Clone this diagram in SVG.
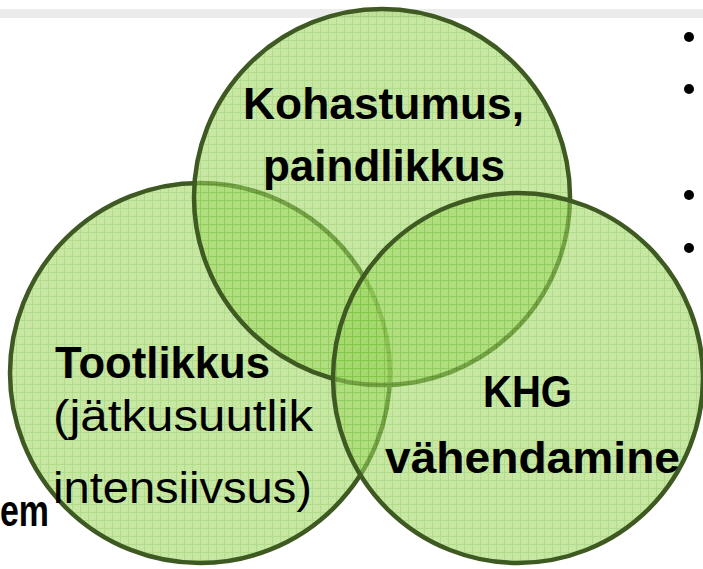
<svg xmlns="http://www.w3.org/2000/svg" width="703" height="569" viewBox="0 0 703 569">
<defs>
<pattern id="grid" width="8" height="8" patternUnits="userSpaceOnUse">
<rect width="8" height="8" fill="#9fd661"/>
<path d="M0 0.5H8M0.5 0V8" stroke="#79c23c" stroke-width="1"/>
</pattern>
<style>
.circ{fill:url(#grid);fill-opacity:0.58;stroke:#3e5a22;stroke-width:4.5}
.b{font-family:"Liberation Sans",Arial,sans-serif;font-weight:bold;font-size:44px;fill:#000}
.r{font-family:"Liberation Sans",Arial,sans-serif;font-weight:normal;font-size:44px;fill:#000}
.dot{fill:#000}
</style>
</defs>
<rect width="703" height="569" fill="#ffffff"/>
<rect x="0" y="9" width="703" height="9" fill="#ebebeb"/>
<g id="bullets">
<circle class="dot" cx="689" cy="37" r="5"/>
<circle class="dot" cx="689" cy="89" r="5"/>
<circle class="dot" cx="689" cy="195" r="5"/>
<circle class="dot" cx="689" cy="248" r="5"/>
</g>
<text class="b" x="0" y="526" textLength="49" lengthAdjust="spacingAndGlyphs" font-size="38">em</text>
<g id="tootlikkus">
<circle class="circ" cx="200" cy="373" r="190"/>
<text class="b" x="55" y="378" textLength="215" lengthAdjust="spacingAndGlyphs">Tootlikkus</text>
<text class="r" x="53" y="431" textLength="260" lengthAdjust="spacingAndGlyphs">(jätkusuutlik</text>
<text class="r" x="53" y="503" textLength="259" lengthAdjust="spacingAndGlyphs">intensiivsus)</text>
</g>
<g id="kohastumus">
<circle class="circ" cx="382" cy="197" r="188"/>
<text class="b" x="243" y="119" textLength="281" lengthAdjust="spacingAndGlyphs">Kohastumus,</text>
<text class="b" x="263" y="181" textLength="242" lengthAdjust="spacingAndGlyphs">paindlikkus</text>
</g>
<g id="khg">
<circle class="circ" cx="518" cy="378" r="185"/>
<text class="b" x="483" y="407" textLength="89" lengthAdjust="spacingAndGlyphs">KHG</text>
<text class="b" x="385" y="473" textLength="295" lengthAdjust="spacingAndGlyphs">vähendamine</text>
</g>
<g id="connectors"/>
</svg>
